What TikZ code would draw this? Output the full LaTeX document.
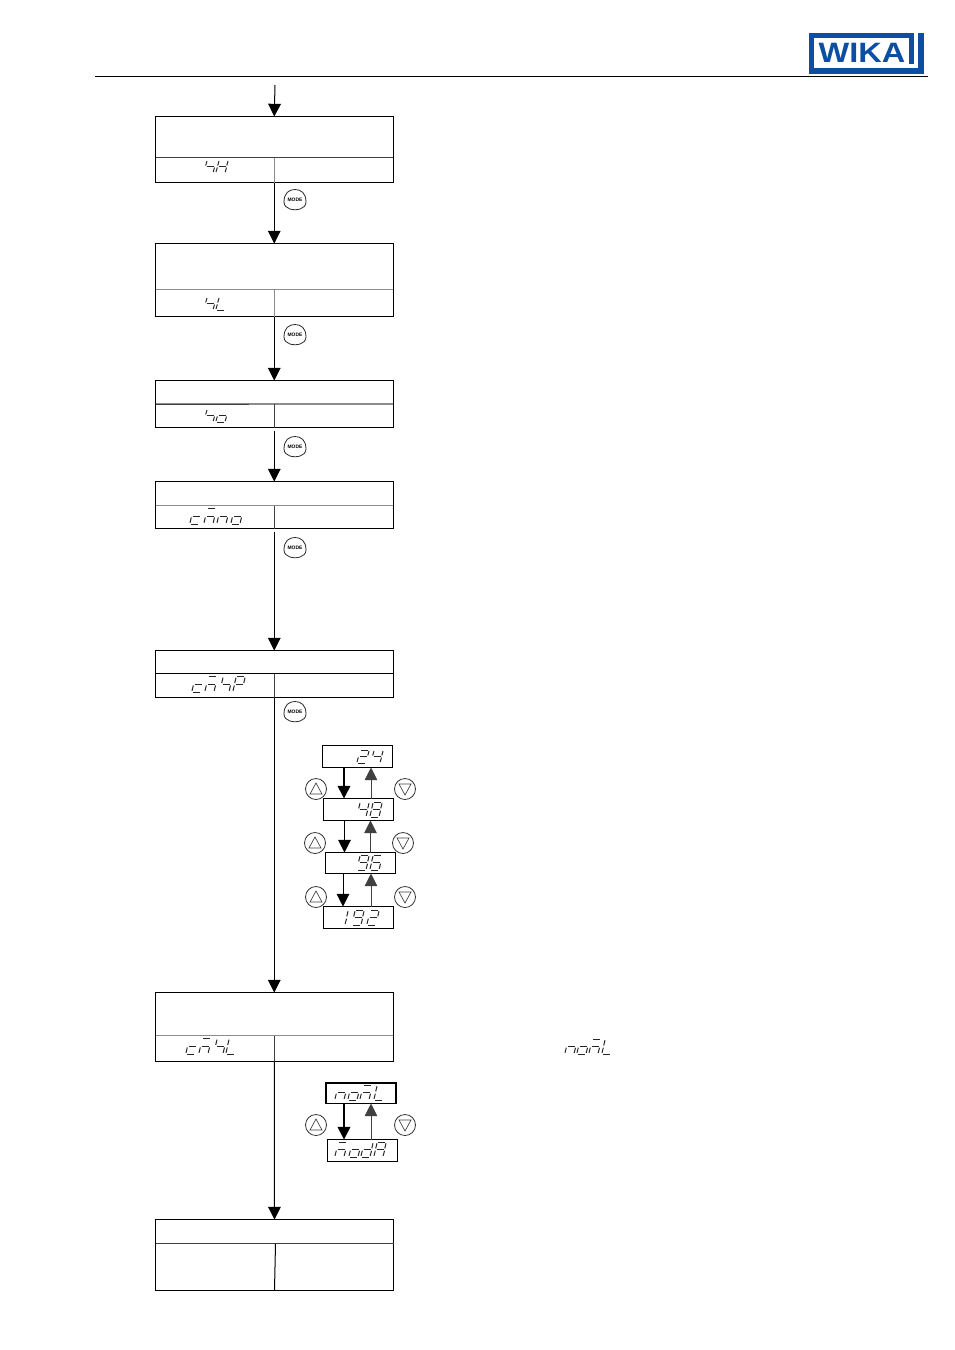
\documentclass[tikz,border=0pt]{standalone}
\usepackage{fontspec}
\setmainfont{Liberation Sans}
\usetikzlibrary{arrows.meta,calc}
\definecolor{wikablue}{HTML}{0B4EA2}
\tikzset{
  x=0.75pt,y=-0.75pt,
  every node/.style={inner sep=0pt,outer sep=0pt},
  boxed/.style={draw=black,line width=0.75pt,fill=none},
  divline/.style={line width=0.75pt,draw=black!75},
  graydiv/.style={line width=0.9pt,draw=black!45},
  flow/.style={line width=0.75pt,draw=black,-{Triangle[width=9.5pt,length=9.5pt]}},
  flowthick/.style={flow,line width=1.2pt},
  flowthin/.style={flow,draw=black!75},
  segl/.style={line width=0.75pt,draw=black!85,line cap=butt},
  roundbtn/.style={circle,draw=black!80,line width=0.6pt,minimum size=15.75pt},
  modetext/.style={font=\fontsize{3.7}{4}\selectfont\bfseries,text=black},
  trl/.style={line width=0.5pt,draw=black!75},
}
% seven-segment pieces
\def\sga{(4,-13) -- (11,-13)}
\def\sgb{(12,-12) -- (10.8,-7.5)}
\def\sgc{(10.5,-5.5) -- (9.2,-1)}
\def\sgd{(8,0) -- (1,0)}
\def\sge{(0,-1) -- (1.3,-5.5)}
\def\sgf{(1.7,-7.5) -- (3,-12)}
\def\sgg{(2.5,-6.5) -- (9.5,-6.5)}
\def\segdraw#1;{\draw[segl] #1;}
\newcommand\seven[4][1]{%
  \begin{scope}[shift={(#2,#3)},yscale=#1]
  \foreach \q in #4 {\expandafter\expandafter\expandafter\segdraw\csname sg\q\endcsname;}
  \end{scope}}
\def\gS{f,g,c}\def\gH{b,c,e,f,g}\def\gL{e,f,d}\def\gO{g,c,d,e}\def\gC{g,e,d}
\def\gM{a,e,c,g}\def\gN{e,g,c}\def\gP{a,b,e,f,g}\def\gD{b,c,d,e,g}\def\gA{a,b,c,e,f,g}
\def\gTwo{a,b,g,e,d}\def\gFour{f,g,b,c}\def\gEight{a,b,c,d,e,f,g}
\def\gNine{a,b,c,d,f,g}\def\gSix{a,f,g,e,c,d}\def\gOne{b,c}
\newcommand\pxbox[6][boxed]{%
  \node[#1,minimum width={(#5-#3)*0.75pt},minimum height={(#6-#4)*0.75pt}] (#2) at ({(#3+#5)/2},{(#4+#6)/2}) {};}
\newcommand\modebtn[3]{%
  \node[modetext] (#1) at (#2,#3) {MODE};
  \draw[line width=0.6pt,draw=black!85] ($(#1)+(-11,2)$) .. controls ($(#1)+(-11,-7)$) and ($(#1)+(-6,-10.5)$) .. ($(#1)+(0,-10.5)$)
    .. controls ($(#1)+(6,-10.5)$) and ($(#1)+(11,-7)$) .. ($(#1)+(11,2)$)
    .. controls ($(#1)+(11,6)$) and ($(#1)+(8,8)$) .. ($(#1)+(5,9)$)
    .. controls ($(#1)+(2,10)$) and ($(#1)+(-2,10)$) .. ($(#1)+(-5,9)$)
    .. controls ($(#1)+(-8,8)$) and ($(#1)+(-11,6)$) .. cycle;}
\newcommand\upbtn[3]{%
  \node[roundbtn] (#1) at (#2,#3) {};
  \draw[trl] ($(#1)+(-6,5)$) -- ($(#1)+(0,-6)$) -- ($(#1)+(6,5)$) -- cycle;}
\newcommand\dnbtn[3]{%
  \node[roundbtn] (#1) at (#2,#3) {};
  \draw[trl] ($(#1)+(-6,-5)$) -- ($(#1)+(0,6)$) -- ($(#1)+(6,-5)$) -- cycle;}
\begin{document}
\begin{tikzpicture}
\useasboundingbox (0,0) rectangle (954,1350);
\fill[white] (0,0) rectangle (954,1350);
% header
\coordinate (hl) at (95,76.5);
\coordinate (hr) at (928,76.5);
\draw[line width=0.75pt] (hl) -- (hr);
% logo
\fill[wikablue] (808.5,33) rectangle (924,74);
\fill[white] (814,38) rectangle (918,68);
\fill[white] (914,33) rectangle (918,38);
\fill[wikablue] (909,33) rectangle (914,64);
\node[font=\bfseries\fontsize{21}{21}\selectfont,text=wikablue,xscale=1.16,transform shape] (logo) at (862,53) {WIKA};
% main boxes
\pxbox{b1}{155.5}{116.5}{393}{182.5}
\pxbox{b2}{155.5}{243.5}{393}{316.5}
\pxbox{b3}{155.5}{380.5}{393}{427.5}
\pxbox{b4}{155.5}{481.5}{393}{528.5}
\pxbox{b5}{155.5}{650.5}{393}{697.5}
\pxbox{b6}{155.5}{992.5}{393}{1061.5}
\pxbox{b7}{155.5}{1219.5}{393.5}{1290.5}
% dividers
\draw[divline] (155.5,157.5) -- (393,157.5);
\draw[graydiv] (b1.south) -- (274.25,157.5);
\draw[graydiv] (155.5,289.5) -- (393,289.5);
\draw[graydiv] (b2.south) -- (274.25,289.5);
\draw[graydiv] (155.5,404) -- (393,404);
\draw[divline] (155.5,404) -- (249,404);
\draw[divline] (b3.south) -- (274.25,404);
\draw[graydiv] (155.5,505.5) -- (393,505.5);
\draw[divline] (b4.south) -- (274.25,505.5);
\draw[divline,draw=black] (155.5,673.5) -- (393,673.5);
\draw[divline] (b5.south) -- (274.25,673.5);
\draw[graydiv] (155.5,1035.5) -- (393,1035.5);
\draw[divline] (b6.south) -- (274.25,1035.5);
\draw[divline] (155.5,1243.5) -- (393.5,1243.5);
\draw[divline,draw=black] (b7.south) -- (275.5,1243.5);
% flow
\coordinate (start) at (275,85);
\draw[flow] (start) -- (b1.north);
\draw[flow] (b1.south) -- (b2.north);
\draw[flow] (b2.south) -- (b3.north);
\draw[flow] ($(b3.south)+(0,3)$) -- (b4.north);
\draw[flow] ($(b4.south)+(0,3)$) -- (b5.north);
\draw[flow] (b5.south) -- (b6.north);
\draw[flow] (b6.south) -- (b7.north);
% mode buttons
\modebtn{m1}{295}{200}
\modebtn{m2}{295}{335}
\modebtn{m3}{295}{447}
\modebtn{m4}{295}{548}
\modebtn{m5}{295}{712}
% displays in boxes
\seven{204}{173}{\gS}\seven{216}{173}{\gH}
\seven{204}{310}{\gS}\seven{216}{310}{\gL}
\seven{204}{422}{\gS}\seven{216}{422}{\gO}
\seven[1.2]{190}{524}{\gC}\seven[1.2]{204}{524}{\gM}\seven[1.2]{217}{524}{\gN}\seven[1.2]{231}{524}{\gO}
\seven[1.2]{192}{692}{\gC}\seven[1.2]{205}{692}{\gM}\seven[1.2]{220}{692}{\gS}\seven[1.2]{233}{692}{\gP}
\seven[1.2]{186}{1054}{\gC}\seven[1.2]{199}{1054}{\gM}\seven[1.2]{214}{1054}{\gS}\seven[1.2]{226}{1054}{\gL}
\seven[1.15]{565}{1054}{\gN}\seven[1.15]{577}{1054}{\gO}\seven[1.15]{589}{1054}{\gM}\seven[1.15]{602}{1054}{\gL}
% baud list
\pxbox{d24}{322.5}{745.5}{392.5}{767.5}
\pxbox{d48}{323.5}{798.5}{393}{820.5}
\pxbox{d96}{325.5}{852.5}{395.5}{873.5}
\pxbox{d192}{323.5}{906.5}{393}{928.5}
\seven{357}{763}{\gTwo}\seven{371}{763}{\gFour}
\seven[1.15]{357}{817}{\gFour}\seven[1.15]{370}{817}{\gEight}
\seven[1.15]{357}{870}{\gNine}\seven[1.15]{370}{870}{\gSix}
\seven[1.15]{336}{925}{\gOne}\seven[1.15]{352}{925}{\gNine}\seven[1.15]{367}{925}{\gTwo}
\draw[flowthick] ($(d24.south west)+(21.5,0)$) coordinate (p1) -- (p1 |- d48.north);
\draw[flowthin] ($(d48.north west)+(47.5,0)$) coordinate (q1) -- (q1 |- d24.south);
\draw[flow] ($(d48.south west)+(21,0)$) coordinate (p2) -- (p2 |- d96.north);
\draw[flowthin] ($(d96.north west)+(45,0)$) coordinate (q2) -- (q2 |- d48.south);
\draw[flow] ($(d96.south west)+(17.5,0)$) coordinate (p3) -- (p3 |- d192.north);
\draw[flowthin] ($(d192.north west)+(47.5,0)$) coordinate (q3) -- (q3 |- d96.south);
\upbtn{u1}{316}{789}\dnbtn{v1}{405}{789}
\upbtn{u2}{315}{843}\dnbtn{v2}{403}{843}
\upbtn{u3}{316}{897}\dnbtn{v3}{405}{897}
% mode list
\pxbox[boxed,line width=1.2pt]{dn}{326}{1083}{396}{1103.5}
\pxbox{dm}{327}{1139.5}{397}{1161.5}
\seven[1.15]{335}{1100}{\gN}\seven[1.15]{348}{1100}{\gO}\seven[1.15]{360}{1100}{\gM}\seven[1.15]{374}{1100}{\gL}
\seven[1.15]{335}{1157}{\gM}\seven[1.15]{349}{1157}{\gO}\seven[1.15]{361}{1157}{\gD}\seven[1.15]{374}{1157}{\gA}
\draw[flowthick] ($(dn.south west)+(18,0)$) coordinate (p4) -- (p4 |- dm.north);
\draw[flowthin] ($(dm.north west)+(44,0)$) coordinate (q4) -- (q4 |- dn.south);
\upbtn{u4}{316}{1125}\dnbtn{v4}{405}{1125}
\end{tikzpicture}
\end{document}
